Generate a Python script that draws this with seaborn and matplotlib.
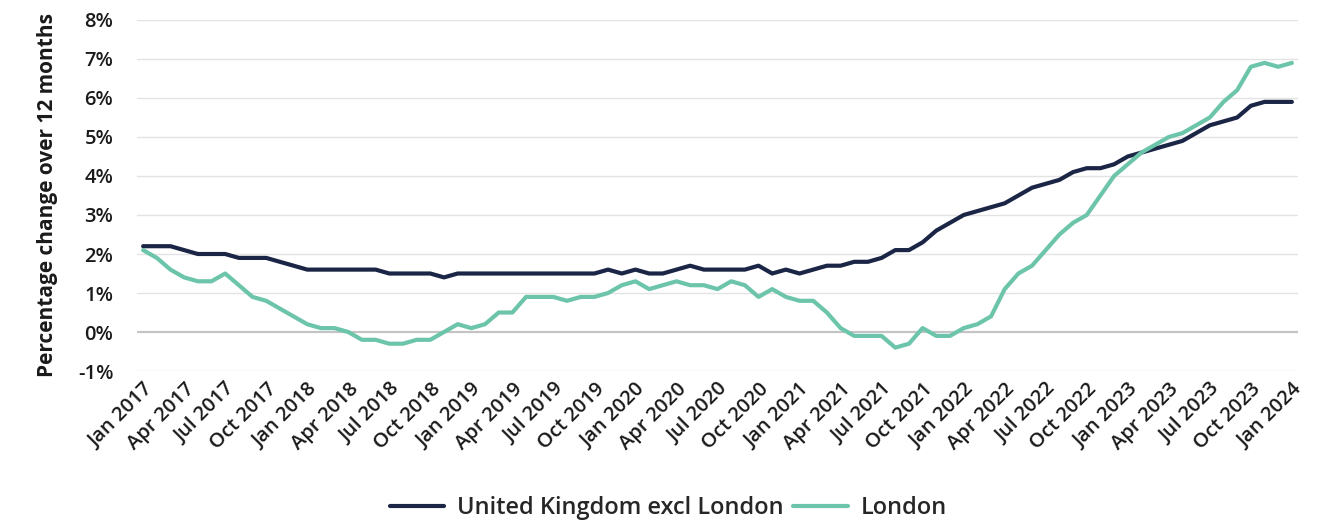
import matplotlib
matplotlib.use("Agg")
import matplotlib.pyplot as plt
import seaborn as sns
import pandas as pd
import numpy as np
from matplotlib.ticker import FuncFormatter

# Monthly series, Jan 2017 - Jan 2024 (percentage change over 12 months)
months = pd.date_range("2017-01-01", "2024-01-01", freq="MS")

uk_excl_london = [
    2.2, 2.2, 2.2, 2.1, 2.0, 2.0, 2.0, 1.9, 1.9, 1.9, 1.8, 1.7,
    1.6, 1.6, 1.6, 1.6, 1.6, 1.6, 1.5, 1.5, 1.5, 1.5, 1.4, 1.5,
    1.5, 1.5, 1.5, 1.5, 1.5, 1.5, 1.5, 1.5, 1.5, 1.5, 1.6, 1.5,
    1.6, 1.5, 1.5, 1.6, 1.7, 1.6, 1.6, 1.6, 1.6, 1.7, 1.5, 1.6,
    1.5, 1.6, 1.7, 1.7, 1.8, 1.8, 1.9, 2.1, 2.1, 2.3, 2.6, 2.8,
    3.0, 3.1, 3.2, 3.3, 3.5, 3.7, 3.8, 3.9, 4.1, 4.2, 4.2, 4.3,
    4.5, 4.6, 4.7, 4.8, 4.9, 5.1, 5.3, 5.4, 5.5, 5.8, 5.9, 5.9,
    5.9,
]

london = [
    2.1, 1.9, 1.6, 1.4, 1.3, 1.3, 1.5, 1.2, 0.9, 0.8, 0.6, 0.4,
    0.2, 0.1, 0.1, 0.0, -0.2, -0.2, -0.3, -0.3, -0.2, -0.2, 0.0, 0.2,
    0.1, 0.2, 0.5, 0.5, 0.9, 0.9, 0.9, 0.8, 0.9, 0.9, 1.0, 1.2,
    1.3, 1.1, 1.2, 1.3, 1.2, 1.2, 1.1, 1.3, 1.2, 0.9, 1.1, 0.9,
    0.8, 0.8, 0.5, 0.1, -0.1, -0.1, -0.1, -0.4, -0.3, 0.1, -0.1, -0.1,
    0.1, 0.2, 0.4, 1.1, 1.5, 1.7, 2.1, 2.5, 2.8, 3.0, 3.5, 4.0,
    4.3, 4.6, 4.8, 5.0, 5.1, 5.3, 5.5, 5.9, 6.2, 6.8, 6.9, 6.8,
    6.9,
]

series_names = ["United Kingdom excl London", "London"]
y_ticks = [-1, 0, 1, 2, 3, 4, 5, 6, 7, 8]
y_label = "Percentage change over 12 months"

labels = [d.strftime("%b %Y") for d in months]
idx = np.arange(len(months))

df = pd.DataFrame({
    "idx": np.concatenate([idx, idx]),
    "value": uk_excl_london + london,
    "series": [series_names[0]] * len(idx) + [series_names[1]] * len(idx),
})

sns.set_theme(style="white")
plt.rcParams["font.family"] = ["Open Sans", "DejaVu Sans"]

palette = {series_names[0]: "#1b2646", series_names[1]: "#6cc5aa"}

fig = plt.figure(figsize=(13.26, 5.23), dpi=100)
ax = fig.add_axes([0.1033, 0.2906, 0.8756, 0.6712])

sns.lineplot(data=df, x="idx", y="value", hue="series", palette=palette,
             linewidth=3.0, ax=ax, legend=False)

ax.set_ylim(-1, 8)
ax.set_xlim(-0.45, len(months) - 1 + 0.45)
ax.set_yticks(y_ticks)
ax.yaxis.set_major_formatter(FuncFormatter(lambda v, p: f"{v:.0f}%"))

# Gridlines: light grey, zero line slightly darker
for t in y_ticks:
    if t == 0:
        ax.axhline(t, color="#c4c4c4", linewidth=1.6, zorder=0.5)
    else:
        ax.axhline(t, color="#e3e3e3", linewidth=1.0, zorder=0.5)

tick_pos = idx[::3]
ax.set_xticks(tick_pos)
ax.set_xticklabels([labels[i] for i in tick_pos], rotation=45, ha="right",
                   rotation_mode="anchor")

for lab in ax.get_xticklabels() + ax.get_yticklabels():
    lab.set_fontsize(14.5)
    lab.set_fontweight("semibold")
    lab.set_color("#1a1a1a")

ax.tick_params(axis="x", length=0, pad=6)
ax.tick_params(axis="y", length=0, pad=17)

ax.set_xlabel("")
ax.set_ylabel(y_label, fontsize=15, fontweight="bold", color="#1a1a1a",
              labelpad=14)

for s in ax.spines.values():
    s.set_visible(False)

handles = [plt.Line2D([0], [0], color=palette[n], linewidth=3.0) for n in series_names]
fig.legend(handles, series_names, loc="center", bbox_to_anchor=(0.504, 0.029),
           ncol=2, frameon=False, handlelength=2.3, columnspacing=0.4,
           handletextpad=0.55,
           prop={"size": 17, "weight": "semibold"})

fig.savefig("out.png", dpi=100)
